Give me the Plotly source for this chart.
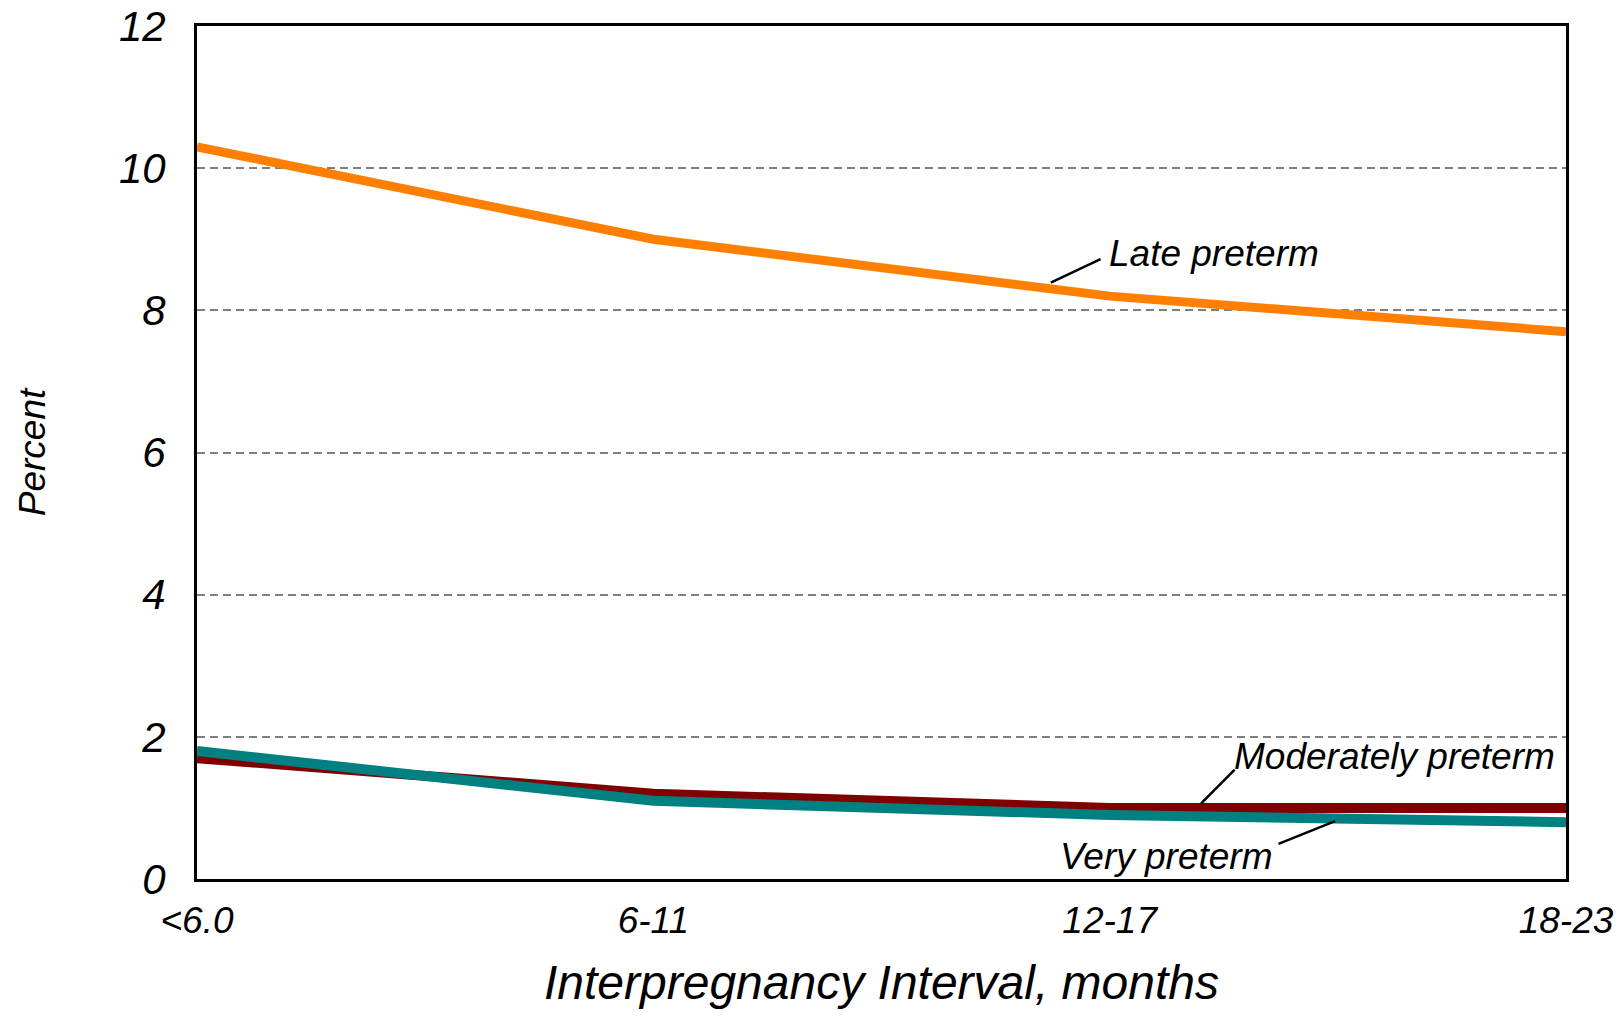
import plotly.graph_objects as go

intervals = ["<6.0", "6-11", "12-17", "18-23"]
late_preterm = [10.3, 9.0, 8.2, 7.7]
moderately_preterm = [1.7, 1.2, 1.0, 1.0]
very_preterm = [1.8, 1.1, 0.9, 0.8]

FONT = "Liberation Sans, Arial, sans-serif"

fig = go.Figure()
fig.add_trace(go.Scatter(x=intervals, y=late_preterm, mode="lines", name="Late preterm",
                         line=dict(color="#FF8000", width=9)))
fig.add_trace(go.Scatter(x=intervals, y=moderately_preterm, mode="lines", name="Moderately preterm",
                         line=dict(color="#800000", width=10)))
fig.add_trace(go.Scatter(x=intervals, y=very_preterm, mode="lines", name="Very preterm",
                         line=dict(color="#008080", width=10)))

# leader lines for the labels
leaders = [((1.871, 8.39), (1.98, 8.72)),
           ((2.20, 1.06), (2.274, 1.54)),
           ((2.494, 0.815), (2.370, 0.495))]
for (x0, y0), (x1, y1) in leaders:
    fig.add_shape(type="line", xref="x", yref="y", x0=x0, y0=y0, x1=x1, y1=y1,
                  line=dict(color="black", width=2.5))

labels = [("Late preterm", 1.995, 8.8), ("Moderately preterm", 2.268, 1.72), ("Very preterm", 1.887, 0.32)]
for txt, x, y in labels:
    fig.add_annotation(text=txt, x=x, y=y, xref="x", yref="y", xanchor="left", yanchor="middle",
                       showarrow=False, font=dict(family=FONT, size=37, color="black", style="italic"))

# x axis title as an annotation, kept inside the figure
fig.add_annotation(text="Interpregnancy Interval, months", x=0.5, y=-0.121, xref="paper", yref="paper",
                   xanchor="center", yanchor="middle", showarrow=False,
                   font=dict(family=FONT, size=48, color="black", style="italic"))

fig.update_xaxes(type="category", range=[0, 3], showline=True, linecolor="black", linewidth=3,
                 mirror=True, showgrid=False, ticks="", ticklabelstandoff=7, automargin=False,
                 ticklabeloverflow="allow",
                 tickfont=dict(family=FONT, size=37, color="black", style="italic"))
fig.update_yaxes(range=[0, 12], dtick=2, showline=True, linecolor="black", linewidth=3, mirror=True,
                 showgrid=True, gridcolor="#7f7f7f", gridwidth=1.5, griddash="8px,5px",
                 zeroline=False, ticks="", ticklabelstandoff=20, automargin=False,
                 ticklabeloverflow="allow",
                 tickfont=dict(family=FONT, size=42, color="black", style="italic"),
                 title=dict(text="Percent", standoff=62,
                            font=dict(family=FONT, size=37, color="black", style="italic")))

# page body has an 8px margin, so the figure is sized to fit the window
fig.update_layout(width=1607, height=1002, showlegend=False, template="none",
                  plot_bgcolor="white", paper_bgcolor="white",
                  margin=dict(l=189, r=49, t=18, b=131))

fig.write_html("out.html")
